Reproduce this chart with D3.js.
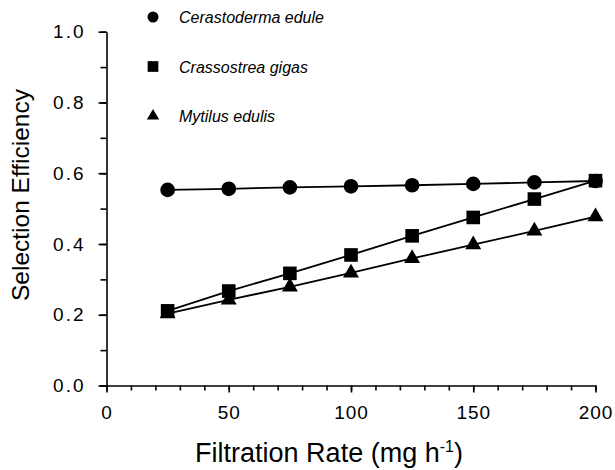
<!DOCTYPE html>
<html>
<head>
<meta charset="utf-8">
<script src="https://cdn.jsdelivr.net/npm/d3@7"></script>
<style>
  body { margin: 0; background: #fff; }
  svg { font-family: "Liberation Sans", Arial, sans-serif; }
</style>
</head>
<body>
<div id="vis"></div>
<script>
const FRAME_WIDTH = 615;
const FRAME_HEIGHT = 470;
const MARGINS = {left: 106.5, right: 19.5, top: 31.7, bottom: 84.5};

const VIS_WIDTH = FRAME_WIDTH - MARGINS.left - MARGINS.right;
const VIS_HEIGHT = FRAME_HEIGHT - MARGINS.top - MARGINS.bottom;

// data
const rates = [25, 50, 75, 100, 125, 150, 175, 200];
const cerastoderma = [0.553, 0.556, 0.560, 0.563, 0.566, 0.570, 0.574, 0.578];
const crassostrea = [0.211, 0.267, 0.317, 0.369, 0.423, 0.475, 0.527, 0.579];
const mytilus = [0.203, 0.242, 0.279, 0.318, 0.359, 0.398, 0.437, 0.477];
const speciesNames = ["Cerastoderma edule", "Crassostrea gigas", "Mytilus edulis"];
const xTicks = [0, 50, 100, 150, 200];
const yTicks = [0.0, 0.2, 0.4, 0.6, 0.8, 1.0];

const SERIES = [
  {name: speciesNames[0], values: cerastoderma, symbol: d3.symbolCircle, size: 170, legendSize: 95},
  {name: speciesNames[1], values: crassostrea, symbol: d3.symbolSquare, size: 185, legendSize: 115},
  {name: speciesNames[2], values: mytilus, symbol: d3.symbolTriangle, size: 110, legendSize: 65}
];

const FRAME = d3.select("#vis")
                .append("svg")
                .attr("width", FRAME_WIDTH)
                .attr("height", FRAME_HEIGHT);

const X_SCALE = d3.scaleLinear().domain([0, 200]).range([0, VIS_WIDTH]);
const Y_SCALE = d3.scaleLinear().domain([0, 1]).range([VIS_HEIGHT, 0]);

const plot = FRAME.append("g")
                  .attr("transform", "translate(" + MARGINS.left + "," + MARGINS.top + ")");

// minor ticks
plot.append("g")
    .attr("transform", "translate(0," + VIS_HEIGHT + ")")
    .call(d3.axisBottom(X_SCALE).tickValues(d3.range(0, 201, 10)).tickSize(5).tickFormat(""))
    .call(g => g.select(".domain").remove());
plot.append("g")
    .call(d3.axisLeft(Y_SCALE).tickValues(d3.range(0, 1.01, 0.1)).tickSize(6).tickFormat(""))
    .call(g => g.select(".domain").remove());

// major ticks + labels
const xAxis = plot.append("g")
    .attr("transform", "translate(0," + VIS_HEIGHT + ")")
    .call(d3.axisBottom(X_SCALE).tickValues(xTicks).tickSize(7).tickSizeOuter(0).tickPadding(13));
xAxis.selectAll("text")
     .attr("font-size", "19px")
     .attr("letter-spacing", "1px")
     .attr("font-family", "Liberation Sans, Arial, sans-serif")
     .attr("fill", "#000");

const yAxis = plot.append("g")
    .call(d3.axisLeft(Y_SCALE).tickValues(yTicks).tickSize(8).tickSizeOuter(0).tickPadding(13)
           .tickFormat(d3.format(".1f")));
yAxis.selectAll("text")
     .attr("font-size", "19px")
     .attr("letter-spacing", "2px")
     .attr("font-family", "Liberation Sans, Arial, sans-serif")
     .attr("fill", "#000");

FRAME.selectAll(".domain, .tick line").attr("stroke", "#000").attr("stroke-width", 1.6);

// lines and markers
const line = d3.line()
               .x((d, i) => X_SCALE(rates[i]))
               .y(d => Y_SCALE(d));

SERIES.forEach(s => {
  plot.append("path")
      .datum(s.values)
      .attr("d", line)
      .attr("fill", "none")
      .attr("stroke", "#000")
      .attr("stroke-width", 1.8);
});

SERIES.forEach(s => {
  plot.selectAll(null)
      .data(s.values)
      .enter()
      .append("path")
        .attr("d", d3.symbol().type(s.symbol).size(s.size))
        .attr("transform", (d, i) => "translate(" + X_SCALE(rates[i]) + "," + Y_SCALE(d) + ")")
        .attr("fill", "#000");
});

// legend
const legend = FRAME.append("g").attr("transform", "translate(153,17)");
SERIES.forEach((s, i) => {
  legend.append("path")
        .attr("d", d3.symbol().type(s.symbol).size(s.legendSize))
        .attr("transform", "translate(0," + (i * 49.5) + ")")
        .attr("fill", "#000");
  legend.append("text")
        .attr("x", 26)
        .attr("y", i * 49.5 + 6)
        .attr("font-size", "16px")
        .attr("font-style", "italic")
        .text(s.name);
});

// axis titles
const xTitle = FRAME.append("text")
     .attr("x", 329)
     .attr("y", 462)
     .attr("text-anchor", "middle")
     .attr("font-size", "27px");
xTitle.append("tspan").text("Filtration Rate (mg h");
xTitle.append("tspan").attr("dy", -10).attr("font-size", "16px").text("-1");
xTitle.append("tspan").attr("dy", 10).text(")");

FRAME.append("text")
     .attr("transform", "translate(29,195) rotate(-90)")
     .attr("text-anchor", "middle")
     .attr("font-size", "24.5px")
     .text("Selection Efficiency");
</script>
</body>
</html>
